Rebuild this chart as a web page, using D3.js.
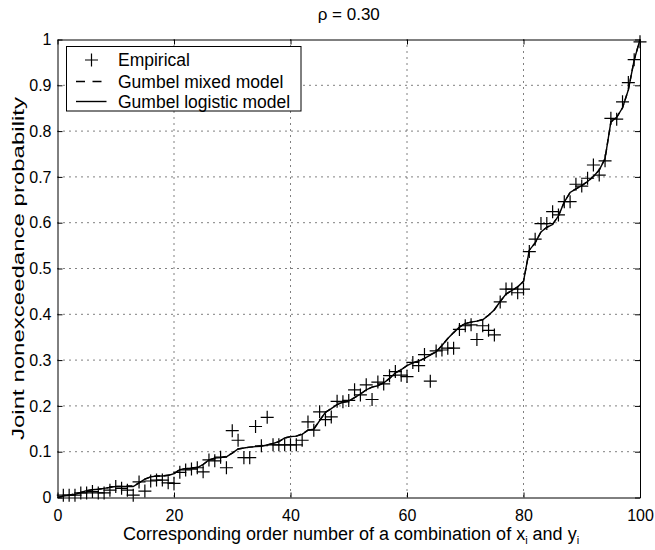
<!DOCTYPE html>
<html>
<head>
<meta charset="utf-8">
<script src="https://cdn.jsdelivr.net/npm/d3@7"></script>
<style>
  body { margin: 0; background: #fff; }
  text { font-family: "Liberation Sans", Arial, Helvetica, sans-serif; }
</style>
</head>
<body>
<div id="chart"></div>
<script>
// empirical joint nonexceedance, order numbers 1..100
const empirical = [
  0.005, 0.005, 0.005, 0.010, 0.010, 0.013, 0.010, 0.010, 0.016, 0.024,
  0.020, 0.016, 0.005, 0.034, 0.014, 0.036, 0.038, 0.038, 0.032, 0.031,
  0.055, 0.060, 0.062, 0.065, 0.056, 0.082, 0.080, 0.088, 0.065, 0.146,
  0.125, 0.087, 0.087, 0.155, 0.113, 0.175, 0.115, 0.115, 0.115, 0.115,
  0.115, 0.125, 0.165, 0.147, 0.187, 0.170, 0.176, 0.210, 0.209, 0.212,
  0.235, 0.224, 0.246, 0.214, 0.252, 0.248, 0.266, 0.275, 0.267, 0.264,
  0.295, 0.288, 0.312, 0.254, 0.320, 0.322, 0.326, 0.326, 0.367, 0.375,
  0.377, 0.345, 0.375, 0.365, 0.355, 0.427, 0.455, 0.455, 0.447, 0.455,
  0.537, 0.564, 0.598, 0.598, 0.624, 0.617, 0.646, 0.646, 0.684, 0.680,
  0.697, 0.726, 0.704, 0.735, 0.828, 0.826, 0.864, 0.906, 0.956, 0.995
];

// model curves, order numbers 0..100
const logisticModel = [
  0.000,
  0.003, 0.005, 0.007, 0.011, 0.015, 0.017, 0.018, 0.020, 0.022, 0.024,
  0.024, 0.024, 0.024, 0.032, 0.040, 0.045, 0.047, 0.047, 0.048, 0.052,
  0.061, 0.063, 0.064, 0.065, 0.072, 0.082, 0.086, 0.087, 0.089, 0.097,
  0.106, 0.108, 0.110, 0.111, 0.112, 0.115, 0.118, 0.122, 0.130, 0.133,
  0.134, 0.138, 0.147, 0.149, 0.168, 0.186, 0.194, 0.203, 0.208, 0.211,
  0.218, 0.226, 0.235, 0.241, 0.244, 0.250, 0.260, 0.272, 0.279, 0.288,
  0.294, 0.298, 0.304, 0.311, 0.318, 0.332, 0.347, 0.360, 0.372, 0.380,
  0.383, 0.385, 0.388, 0.398, 0.410, 0.428, 0.444, 0.452, 0.460, 0.472,
  0.540, 0.556, 0.580, 0.590, 0.596, 0.615, 0.645, 0.666, 0.674, 0.681,
  0.690, 0.701, 0.715, 0.740, 0.820, 0.830, 0.851, 0.890, 0.955, 1.000
];
const mixedModel = [
  0.000,
  0.003, 0.005, 0.008, 0.011, 0.015, 0.017, 0.018, 0.020, 0.022, 0.024,
  0.024, 0.025, 0.025, 0.032, 0.040, 0.045, 0.047, 0.047, 0.049, 0.052,
  0.061, 0.063, 0.064, 0.066, 0.072, 0.082, 0.086, 0.087, 0.090, 0.097,
  0.106, 0.108, 0.110, 0.111, 0.113, 0.115, 0.118, 0.122, 0.130, 0.133,
  0.134, 0.139, 0.147, 0.150, 0.168, 0.186, 0.194, 0.203, 0.208, 0.211,
  0.218, 0.226, 0.235, 0.241, 0.245, 0.250, 0.260, 0.272, 0.279, 0.288,
  0.294, 0.298, 0.304, 0.312, 0.318, 0.332, 0.347, 0.360, 0.372, 0.380,
  0.383, 0.385, 0.389, 0.398, 0.410, 0.428, 0.444, 0.452, 0.460, 0.472,
  0.540, 0.556, 0.580, 0.590, 0.597, 0.615, 0.645, 0.666, 0.674, 0.681,
  0.690, 0.701, 0.715, 0.740, 0.820, 0.830, 0.851, 0.890, 0.955, 1.000
];

const xTicks = [0, 20, 40, 60, 80, 100];
const yTicks = [0, 0.1, 0.2, 0.3, 0.4, 0.5, 0.6, 0.7, 0.8, 0.9, 1];
const yTickLabels = ["0", "0.1", "0.2", "0.3", "0.4", "0.5", "0.6", "0.7", "0.8", "0.9", "1"];
const legendItems = ["Empirical", "Gumbel mixed model", "Gumbel logistic model"];

const W = 655, H = 550;
const margin = { top: 39.5, right: 15, bottom: 52.5, left: 57.5 };
const width = W - margin.left - margin.right,
      height = H - margin.top - margin.bottom;

const svg = d3.select("#chart").append("svg")
    .attr("width", W)
    .attr("height", H);

const g = svg.append("g")
    .attr("transform", `translate(${margin.left},${margin.top})`);

const x = d3.scaleLinear().domain([0, 100]).range([0, width]);
const y = d3.scaleLinear().domain([0, 1]).range([height, 0]);

// dotted grid
g.append("g").selectAll("line")
    .data(xTicks.slice(1, -1))
    .join("line")
    .attr("x1", d => x(d)).attr("x2", d => x(d))
    .attr("y1", 0).attr("y2", height)
    .attr("stroke", "#000").attr("stroke-width", 1)
    .attr("stroke-dasharray", "1,5");
g.append("g").selectAll("line")
    .data(yTicks.slice(1, -1))
    .join("line")
    .attr("y1", d => y(d)).attr("y2", d => y(d))
    .attr("x1", 0).attr("x2", width)
    .attr("stroke", "#000").attr("stroke-width", 1)
    .attr("stroke-dasharray", "1,5");

// axes with inward ticks on all sides
const tickFont = "16px";
const axB = g.append("g").attr("transform", `translate(0,${height})`)
    .call(d3.axisBottom(x).tickValues(xTicks).tickSizeInner(-5).tickSizeOuter(0).tickPadding(12));
const axT = g.append("g")
    .call(d3.axisTop(x).tickValues(xTicks).tickSizeInner(-5).tickSizeOuter(0).tickFormat(""));
const axL = g.append("g")
    .call(d3.axisLeft(y).tickValues(yTicks).tickSizeInner(-5).tickSizeOuter(0).tickPadding(6)
        .tickFormat((d, i) => yTickLabels[i]));
const axR = g.append("g").attr("transform", `translate(${width},0)`)
    .call(d3.axisRight(y).tickValues(yTicks).tickSizeInner(-5).tickSizeOuter(0).tickFormat(""));
[axB, axT, axL, axR].forEach(a => {
    a.select(".domain").attr("stroke", "#000").attr("stroke-width", 1);
    a.selectAll(".tick line").attr("stroke", "#000");
    a.selectAll("text").attr("fill", "#000").style("font-size", tickFont)
        .style("font-family", '"Liberation Sans", Arial, sans-serif');
});

// model curves
const line = d3.line()
    .x((d, i) => x(i))
    .y(d => y(d));

g.append("path")
    .datum(mixedModel)
    .attr("fill", "none")
    .attr("stroke", "#000")
    .attr("stroke-width", 1.4)
    .attr("stroke-dasharray", "6,4")
    .attr("d", line);

g.append("path")
    .datum(logisticModel)
    .attr("fill", "none")
    .attr("stroke", "#000")
    .attr("stroke-width", 1.4)
    .attr("d", line);

// empirical + markers
const plus = 6.5;
g.append("g").selectAll("path")
    .data(empirical)
    .join("path")
    .attr("d", (d, i) => {
        const cx = x(i + 1), cy = y(d);
        return `M${cx - plus},${cy}H${cx + plus}M${cx},${cy - plus}V${cy + plus}`;
    })
    .attr("stroke", "#000")
    .attr("stroke-width", 1.2)
    .attr("fill", "none");

// legend
const lg = svg.append("g").attr("transform", "translate(66.5,46.5)");
lg.append("rect")
    .attr("width", 234.5).attr("height", 64.5)
    .attr("fill", "#fff").attr("stroke", "#000").attr("stroke-width", 1);
const rowY = [13.5, 35, 55];
lg.selectAll("text")
    .data(legendItems)
    .join("text")
    .attr("x", 51.5)
    .attr("y", (d, i) => rowY[i])
    .attr("dy", "0.35em")
    .style("font-size", "17.5px")
    .text(d => d);
lg.append("path")
    .attr("d", `M${25 - plus},${rowY[0]}H${25 + plus}M25,${rowY[0] - plus}V${rowY[0] + plus}`)
    .attr("stroke", "#000").attr("stroke-width", 1.2);
lg.append("line")
    .attr("x1", 9.5).attr("x2", 40).attr("y1", rowY[1]).attr("y2", rowY[1])
    .attr("stroke", "#000").attr("stroke-width", 1.4).attr("stroke-dasharray", "9,7.5");
lg.append("line")
    .attr("x1", 9.5).attr("x2", 40).attr("y1", rowY[2]).attr("y2", rowY[2])
    .attr("stroke", "#000").attr("stroke-width", 1.4);

// title
svg.append("text")
    .attr("x", margin.left + width / 2)
    .attr("y", 20)
    .attr("text-anchor", "middle")
    .style("font-size", "17px")
    .text("\u03C1 = 0.30");

// x label with subscripts
const xl = svg.append("text")
    .attr("x", 351)
    .attr("y", 540)
    .attr("text-anchor", "middle")
    .style("font-size", "18px");
xl.append("tspan").text("Corresponding order number of a combination of x");
xl.append("tspan").attr("dy", 4).style("font-size", "11px").text("i");
xl.append("tspan").attr("dy", -4).text(" and y");
xl.append("tspan").attr("dy", 4).style("font-size", "11px").text("i");

// y label
svg.append("text")
    .attr("transform", `translate(24,${margin.top + height / 2}) rotate(-90)`)
    .attr("text-anchor", "middle")
    .attr("textLength", 343)
    .attr("lengthAdjust", "spacingAndGlyphs")
    .style("font-size", "17px")
    .text("Joint nonexceedance probability");
</script>
</body>
</html>
